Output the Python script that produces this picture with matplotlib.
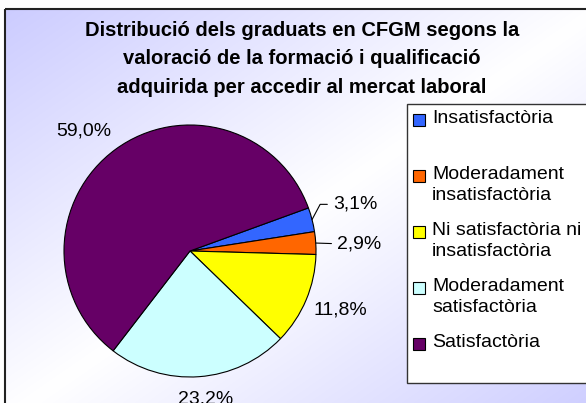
import numpy as np
import matplotlib.pyplot as plt
from matplotlib.patches import Rectangle

# data
categories = ['Insatisfactòria',
              'Moderadament\ninsatisfactòria',
              'Ni satisfactòria ni\ninsatisfactòria',
              'Moderadament\nsatisfactòria',
              'Satisfactòria']
shares = [3.1, 2.9, 11.8, 23.2, 59.0]
colors = ['#3366FF', '#FF6600', '#FFFF00', '#CCFFFF', '#660066']
title = ('Distribució dels graduats en CFGM segons la\n'
         'valoració de la formació i qualificació\n'
         'adquirida per accedir al mercat laboral')

W, H = 586, 403
plt.rcParams['font.family'] = ['Liberation Sans', 'DejaVu Sans']

fig = plt.figure(figsize=(W / 100, H / 100), dpi=100)

# background layer, drawn in pixel coordinates
bg = fig.add_axes([0, 0, 1, 1])
x0, y0, x1, y1 = 5, 9, 600, 420
xx, yy = np.meshgrid(np.linspace(0, 1, 300), np.linspace(0, 1, 220))
t = np.abs(xx + yy - 1)
lav = np.array([204, 204, 255]) / 255
img = 1 - t[..., None] * (1 - lav)
bg.imshow(img, extent=(x0, x1, y1, y0), aspect='auto', interpolation='bilinear')
bg.add_patch(Rectangle((x0, y0), x1 - x0, y1 - y0, fill=False, ec='#222222', lw=1.5))
bg.set_xlim(0, W)
bg.set_ylim(H, 0)
bg.axis('off')

bg.text(302, 21, title, ha='center', va='top', fontsize=14.5, fontweight='bold',
        linespacing=1.62)

# legend box
bg.add_patch(Rectangle((407, 104), 200, 279, fc='white', ec='#333333', lw=1))
for i, (lab, c) in enumerate(zip(categories, colors)):
    ym = 120 + 56 * i
    bg.add_patch(Rectangle((413, ym - 6), 12, 12, fc=c, ec='black', lw=0.8))
    bg.text(432, ym - 10, lab, ha='left', va='top', fontsize=14, linespacing=1.28)

# pie
R, cx, cy = 126, 190, 251
ax = fig.add_axes([(cx - R) / W, 1 - (cy + R) / H, 2 * R / W, 2 * R / H])
wedges, _ = ax.pie(shares, colors=colors, startangle=20, counterclock=False,
                   radius=1, wedgeprops=dict(edgecolor='black', linewidth=0.8))
ax.set_xlim(-1, 1)
ax.set_ylim(-1, 1)
ax.axis('off')

offsets = [(15, 11), (15.3, -0.5), (5, -0.8), (5, -10.3), (-3.2, 10.3)]
has = ['left', 'left', 'left', 'center', 'right']
vas = ['center', 'center', 'top', 'top', 'baseline']
leaders = ['angle,angleA=0,angleB=62,rad=0', 'arc3', None, None, None]
for w, v, off, ha, va, ld in zip(wedges, shares, offsets, has, vas, leaders):
    mid = np.deg2rad((w.theta1 + w.theta2) / 2)
    arrow = None
    if ld:
        arrow = dict(arrowstyle='-', color='black', lw=0.8, connectionstyle=ld,
                     relpos=(0, 0.5), shrinkB=0)
    ax.annotate(f'{v:.1f}'.replace('.', ',') + '%', xy=(np.cos(mid), np.sin(mid)),
                xytext=off, textcoords='offset points', ha=ha, va=va,
                fontsize=14, arrowprops=arrow, annotation_clip=False)

fig.savefig('out.png', dpi=100)
